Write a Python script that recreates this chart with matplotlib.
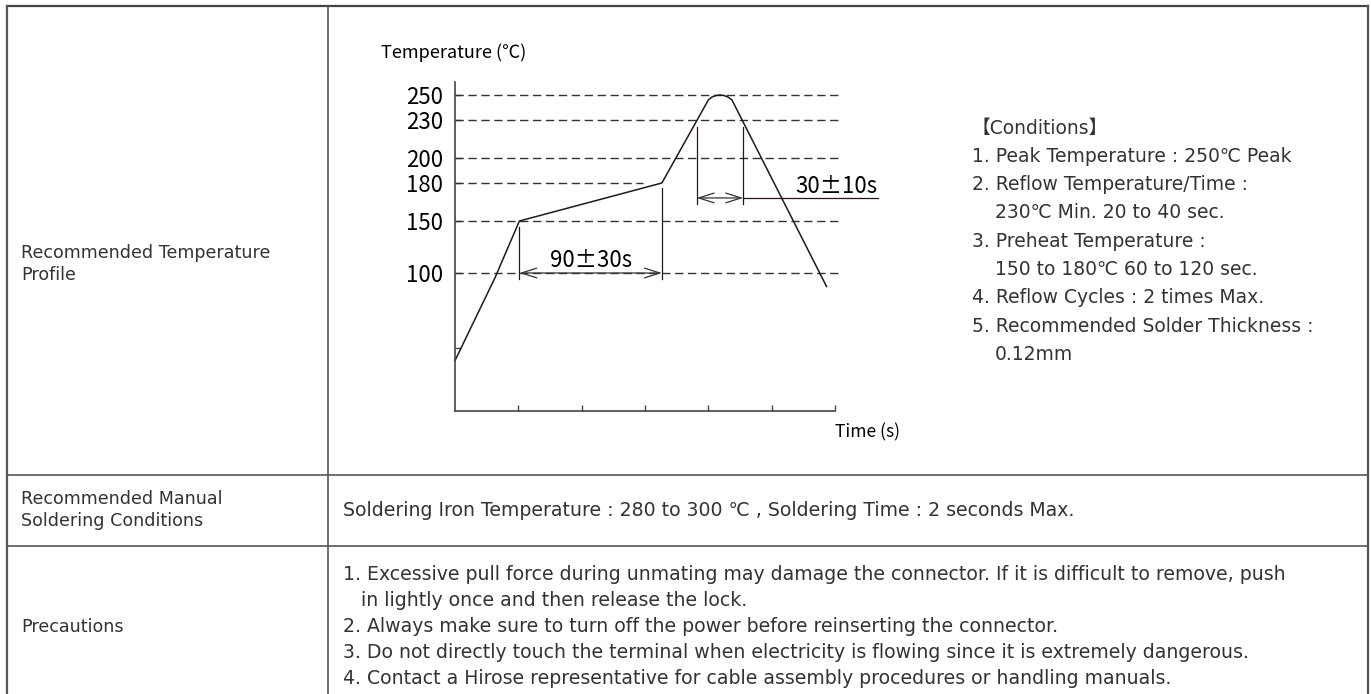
import numpy as np
import matplotlib
matplotlib.use("Agg")
import matplotlib.pyplot as plt
from matplotlib.lines import Line2D

# reflow profile (time in s, temperature in C)
time_s = [0, 38, 61, 196, 240, 243.5, 247.3, 251, 254.7, 258.6, 262.4, 352]
temp_c = [40, 97, 150, 180, 246, 248.4, 249.6, 250, 249.6, 248.4, 246, 91]

temp_ticks = [100, 150, 180, 200, 230, 250]
guide_temps = [100, 150, 200, 230, 250]
time_ticks = [60, 120, 180, 240, 300, 360]
preheat = (61, 196)
reflow = (229, 273)
preheat_label = "90±30s"
reflow_label = "30±10s"

# the drawing is schematic: the temperature axis is not linear
scale_temps = [0, 50, 100, 150, 180, 200, 230, 250, 260]
scale_pos = [0, 63, 138, 190, 228, 253, 291, 316, 329]

conditions = [
    (0, "【Conditions】"),
    (0, "1. Peak Temperature : 250℃ Peak"),
    (0, "2. Reflow Temperature/Time :"),
    (1, "230℃ Min. 20 to 40 sec."),
    (0, "3. Preheat Temperature :"),
    (1, "150 to 180℃ 60 to 120 sec."),
    (0, "4. Reflow Cycles : 2 times Max."),
    (0, "5. Recommended Solder Thickness :"),
    (1, "0.12mm"),
]
row_titles = [
    ["Recommended Temperature", "Profile"],
    ["Recommended Manual", "Soldering Conditions"],
    ["Precautions"],
]
manual_text = "Soldering Iron Temperature : 280 to 300 ℃ , Soldering Time : 2 seconds Max."
precautions = [
    "1. Excessive pull force during unmating may damage the connector. If it is difficult to remove, push",
    "   in lightly once and then release the lock.",
    "2. Always make sure to turn off the power before reinserting the connector.",
    "3. Do not directly touch the terminal when electricity is flowing since it is extremely dangerous.",
    "4. Contact a Hirose representative for cable assembly procedures or handling manuals.",
]

W, H = 1371, 694
TXT = ["DejaVu Sans", "Noto Sans CJK KR"]
CHART = ["Noto Sans CJK JP", "DejaVu Sans"]
NUM = ["Noto Sans CJK JP", "DejaVu Sans"]
ink = "#333333"
line_c = "#231815"

fig = plt.figure(figsize=(W / 100, H / 100), dpi=100)


def fx(x):
    return x / W


def fy(y):
    return 1 - y / H


def hline(y, x0, x1, lw=1.2, c="#555555"):
    fig.add_artist(Line2D([fx(x0), fx(x1)], [fy(y), fy(y)], lw=lw, color=c))


def vline(x, y0, y1, lw=1.2, c="#555555"):
    fig.add_artist(Line2D([fx(x), fx(x)], [fy(y0), fy(y1)], lw=lw, color=c))


# table frame
hline(6, 7, 1368, lw=1.6, c="#444444")
vline(7, 6, 694, lw=1.6, c="#555555")
vline(1368, 6, 694, lw=1.6, c="#555555")
vline(328, 6, 694)
hline(475, 7, 1368)
hline(546, 7, 1368)

# left column labels
for lines, yc, gap in zip(row_titles, [264, 510, 627], [21, 22, 0]):
    n = len(lines)
    for i, s in enumerate(lines):
        y = yc + (i - (n - 1) / 2) * gap
        fig.text(fx(21), fy(y), s, fontsize=12.6, color=ink, family=TXT,
                 ha="left", va="center")

fig.text(fx(343), fy(511), manual_text, fontsize=13.6, color=ink, family=TXT,
         ha="left", va="center")
for i, s in enumerate(precautions):
    fig.text(fx(343), fy(575 + 26 * i), s, fontsize=13.6, color=ink, family=TXT,
             ha="left", va="center")

for i, (ind, s) in enumerate(conditions):
    fig.text(fx(972 + 23 * ind), fy(128 + 28.3 * i), s, fontsize=13.5, color=ink,
             family=TXT, ha="left", va="center")

# chart
ax = fig.add_axes([fx(455), fy(411), 380 / W, 329 / H])
fwd = lambda v: np.interp(v, scale_temps, scale_pos)
inv = lambda v: np.interp(v, scale_pos, scale_temps)
ax.set_yscale("function", functions=(fwd, inv))
ax.set_xlim(0, 360)
ax.set_ylim(0, 260)
for s in ["top", "right"]:
    ax.spines[s].set_visible(False)
for s in ["left", "bottom"]:
    ax.spines[s].set_color("#444444")
    ax.spines[s].set_linewidth(1.2)

ax.set_yticks([50] + temp_ticks)
ax.set_yticklabels([""] + [str(t) for t in temp_ticks])
ax.yaxis.set_minor_locator(matplotlib.ticker.NullLocator())
ax.set_xticks(time_ticks)
ax.set_xticklabels([])
ax.tick_params(direction="in", length=4, width=1, color="#444444", pad=8.5,
               labelsize=16, labelcolor="black")
for lbl in ax.get_yticklabels():
    lbl.set_fontfamily(NUM)

dash = (0, (6, 3.3))
for t in guide_temps:
    ax.plot([0, 366], [t, t], ls=dash, lw=1, color=ink, clip_on=False)
ax.plot([0, 178], [180, 180], ls=dash, lw=1, color=ink, clip_on=False)

ax.plot(time_s, temp_c, color=line_c, lw=1.1, clip_on=False)

arrow = dict(arrowstyle="<->,head_length=1.1,head_width=0.35", lw=0.9,
             color=ink, shrinkA=0, shrinkB=0, mutation_scale=10)

# preheat window
ax.plot([preheat[0]] * 2, [144, 96], color=line_c, lw=0.9)
ax.plot([preheat[1]] * 2, [176, 96], color=line_c, lw=0.9)
ax.annotate("", xy=(preheat[0], 100), xytext=(preheat[1], 100), arrowprops=arrow)
ax.text(sum(preheat) / 2, 106, preheat_label, ha="center", va="baseline",
        fontsize=16, family=NUM, color="black")

# reflow window
ax.plot([reflow[0]] * 2, [224.5, 163.4], color=line_c, lw=0.9)
ax.plot([reflow[1]] * 2, [224.5, 163.4], color=line_c, lw=0.9)
ax.annotate("", xy=(reflow[0], 168.2), xytext=(reflow[1], 168.2), arrowprops=arrow)
ax.plot([reflow[1], 401], [168.2, 168.2], color=line_c, lw=0.9, clip_on=False)
ax.text(400, 172, reflow_label, ha="right", va="baseline",
        fontsize=16, family=NUM, color="black")

fig.text(fx(381), fy(53), "Temperature (℃)", fontsize=13, family=CHART,
         ha="left", va="center", color="black")
fig.text(fx(835), fy(432), "Time (s)", fontsize=12.5, family=CHART,
         ha="left", va="center", color="black")

fig.savefig("out.png", dpi=100)
